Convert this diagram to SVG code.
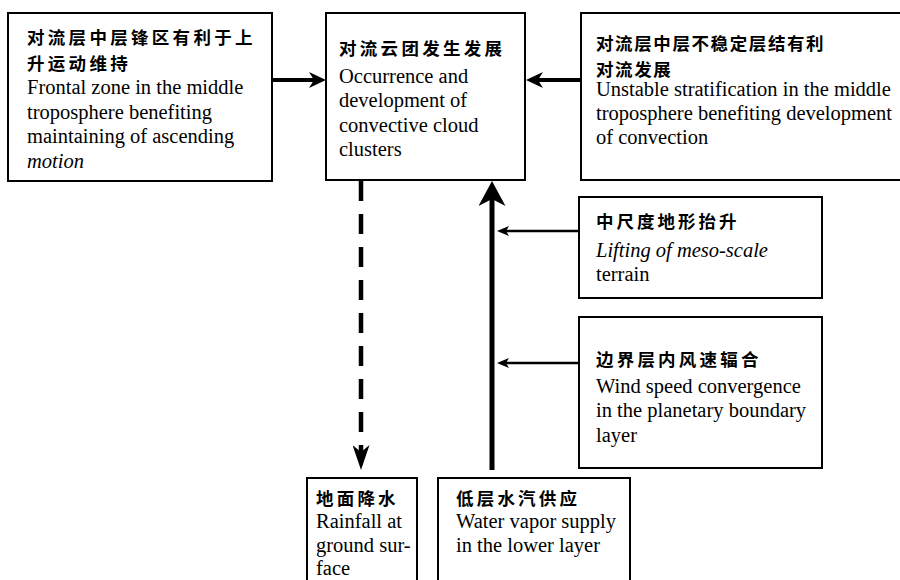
<svg xmlns="http://www.w3.org/2000/svg" width="900" height="580" viewBox="0 0 900 580">
<style>
.box{fill:#fff;stroke:#000;stroke-width:2}
.zh{font-family:"Noto Sans CJK SC","Noto Sans CJK TC",sans-serif;font-weight:bold;font-size:17.5px;letter-spacing:3.3px;fill:#000}
.en{font-family:"Liberation Serif","Times New Roman",serif;font-size:20.5px;fill:#000}
.it{font-style:italic}
.conn{stroke:#000;fill:none}
</style>
<defs>
<marker id="hL" markerUnits="userSpaceOnUse" viewBox="0 0 17 16" markerWidth="17" markerHeight="16" refX="8.5" refY="8" orient="auto">
<path d="M0,0 L17,8 L0,16 L5,8 z" fill="#000"/>
</marker>
<marker id="hD" markerUnits="userSpaceOnUse" viewBox="0 0 25 17" markerWidth="25" markerHeight="17" refX="12.5" refY="8.5" orient="auto">
<path d="M0,0 L25,8.5 L0,17 L7,8.5 z" fill="#000"/>
</marker>
<marker id="hU" markerUnits="userSpaceOnUse" viewBox="0 0 25 27" markerWidth="25" markerHeight="27" refX="12.5" refY="13.5" orient="auto">
<path d="M0,0 L25,13.5 L0,27 L7,13.5 z" fill="#000"/>
</marker>
<marker id="hS" markerUnits="userSpaceOnUse" viewBox="0 0 12 10" markerWidth="12" markerHeight="10" refX="6" refY="5" orient="auto">
<path d="M0,0 L12,5 L0,10 L3,5 z" fill="#000"/>
</marker>
</defs>
<rect width="900" height="580" fill="#fff"/>

<g id="connectors">
<line class="conn" x1="272" y1="80" x2="317.5" y2="80" stroke-width="4" marker-end="url(#hL)"/>
<line class="conn" x1="581" y1="80" x2="534.5" y2="80" stroke-width="4" marker-end="url(#hL)"/>
<line class="conn" x1="361" y1="181" x2="361" y2="457.5" stroke-width="4.5" stroke-dasharray="20 13" marker-end="url(#hD)"/>
<line class="conn" x1="492" y1="470" x2="492" y2="193.5" stroke-width="5" marker-end="url(#hU)"/>
<line class="conn" x1="579" y1="231" x2="503" y2="231" stroke-width="2.5" marker-end="url(#hS)"/>
<line class="conn" x1="579" y1="363" x2="503" y2="363" stroke-width="2.5" marker-end="url(#hS)"/>
</g>

<g id="node-frontal">
<rect class="box" x="8" y="13" width="264" height="168"/>
<text class="zh" x="27" y="44">对流层中层锋区有利于上</text>
<text class="zh" x="27" y="69.5">升运动维持</text>
<text class="en" x="27" y="94">Frontal zone in the middle</text>
<text class="en" x="27" y="118.5">troposphere benefiting</text>
<text class="en" x="27" y="143">maintaining of ascending</text>
<text class="en it" x="27" y="167.5">motion</text>
</g>

<g id="node-convective">
<rect class="box" x="326" y="13" width="199" height="167"/>
<text class="zh" x="339" y="55">对流云团发生发展</text>
<text class="en" x="339" y="83">Occurrence and</text>
<text class="en" x="339" y="107">development of</text>
<text class="en" x="339" y="132">convective cloud</text>
<text class="en" x="339" y="156">clusters</text>
</g>

<g id="node-unstable">
<rect class="box" x="581" y="13" width="330" height="167"/>
<text class="zh" x="596" y="50" style="letter-spacing:1.6px">对流层中层不稳定层结有利</text>
<text class="zh" x="596" y="75.5" style="letter-spacing:1.6px">对流发展</text>
<text class="en" x="596" y="96">Unstable stratification in the middle</text>
<text class="en" x="596" y="120">troposphere benefiting development</text>
<text class="en" x="596" y="144">of convection</text>
</g>

<g id="node-terrain">
<rect class="box" x="579" y="197" width="243" height="101"/>
<text class="zh" x="596" y="228" style="letter-spacing:3px">中尺度地形抬升</text>
<text class="en it" x="596" y="257">Lifting of meso-scale</text>
<text class="en" x="596" y="281">terrain</text>
</g>

<g id="node-wind">
<rect class="box" x="579" y="317" width="243" height="151"/>
<text class="zh" x="596" y="366" style="letter-spacing:3.2px">边界层内风速辐合</text>
<text class="en" x="596" y="393">Wind speed convergence</text>
<text class="en" x="596" y="417">in the planetary boundary</text>
<text class="en" x="596" y="442">layer</text>
</g>

<g id="node-rainfall">
<rect class="box" x="307" y="478" width="110" height="125"/>
<text class="zh" x="316" y="505" style="letter-spacing:3.2px">地面降水</text>
<text class="en" x="316" y="528">Rainfall at</text>
<text class="en" x="316" y="552">ground sur-</text>
<text class="en" x="316" y="575">face</text>
</g>

<g id="node-vapor">
<rect class="box" x="438" y="478" width="192" height="125"/>
<text class="zh" x="456" y="505" style="letter-spacing:3.2px">低层水汽供应</text>
<text class="en" x="456" y="528">Water vapor supply</text>
<text class="en" x="456" y="552">in the lower layer</text>
</g>
</svg>
